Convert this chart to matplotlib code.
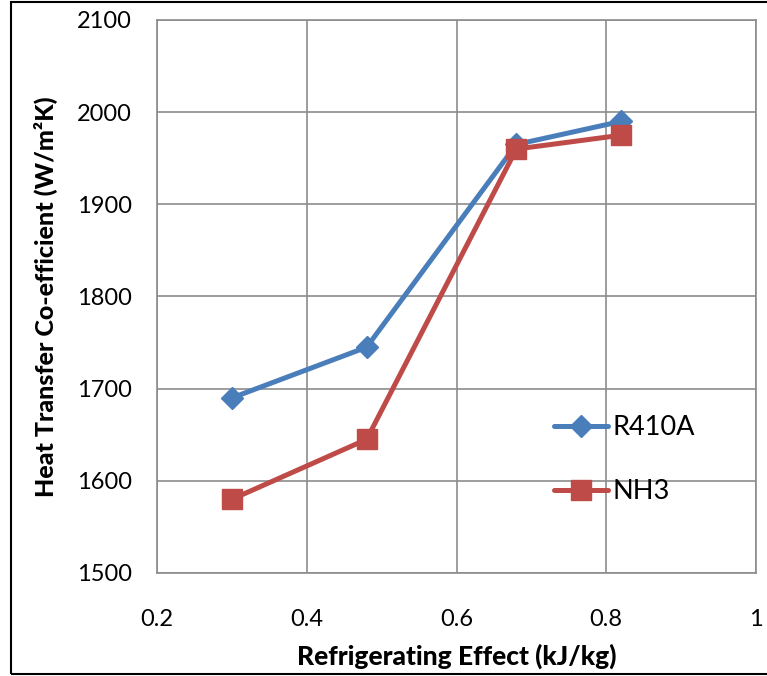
import matplotlib.pyplot as plt
from matplotlib.patches import Rectangle

# refrigerating effect (kJ/kg) vs heat transfer coefficient (W/m2K)
effect = [0.30, 0.48, 0.68, 0.82]
r410a = [1690, 1745, 1965, 1990]
nh3 = [1580, 1645, 1960, 1975]

x_ticks = [0.2, 0.4, 0.6, 0.8, 1.0]
x_labels = ['0.2', '0.4', '0.6', '0.8', '1']
y_ticks = [1500, 1600, 1700, 1800, 1900, 2000, 2100]

plt.rcParams['font.family'] = ['Lato', 'DejaVu Sans']

fig = plt.figure(figsize=(7.67, 6.76), dpi=100)
ax = fig.add_axes([157 / 767, 1 - 573 / 676, 599 / 767, 553 / 676])

grid_c = '#8c8c8c'
ax.plot(effect, r410a, color='#4a7ebb', lw=3.6, marker='D', ms=11,
        label='R410A', solid_capstyle='round')
ax.plot(effect, nh3, color='#be4b48', lw=3.6, marker='s', ms=14,
        label='NH3', solid_capstyle='round')

ax.set_xlim(0.2, 1.0)
ax.set_ylim(1500, 2100)
ax.set_xticks(x_ticks)
ax.set_xticklabels(x_labels)
ax.set_yticks(y_ticks)
ax.tick_params(length=0, labelsize=17, pad=26)
ax.tick_params(axis='y', pad=18)
ax.grid(True, color=grid_c, lw=1.2)
ax.set_axisbelow(True)
for s in ax.spines.values():
    s.set_color(grid_c)
    s.set_linewidth(1.2)

ax.set_xlabel('Refrigerating Effect (kJ/kg)', fontsize=19, fontweight='black',
              labelpad=10)
ax.set_ylabel('Heat Transfer Co-efficient (W/m²K)', fontsize=18,
              fontweight='black', labelpad=14)

ax.legend(loc='center left', bbox_to_anchor=(0.64, 0.205), frameon=False,
          fontsize=19.5, handlelength=2.0, handletextpad=0.15, labelspacing=1.45,
          borderpad=0)

# outer chart frame
fig.patches.append(Rectangle((11 / 767, 2 / 676), 1.0, 672 / 676,
                             transform=fig.transFigure, fill=False,
                             edgecolor='black', lw=1.5))

fig.savefig('out.png', dpi=100)
